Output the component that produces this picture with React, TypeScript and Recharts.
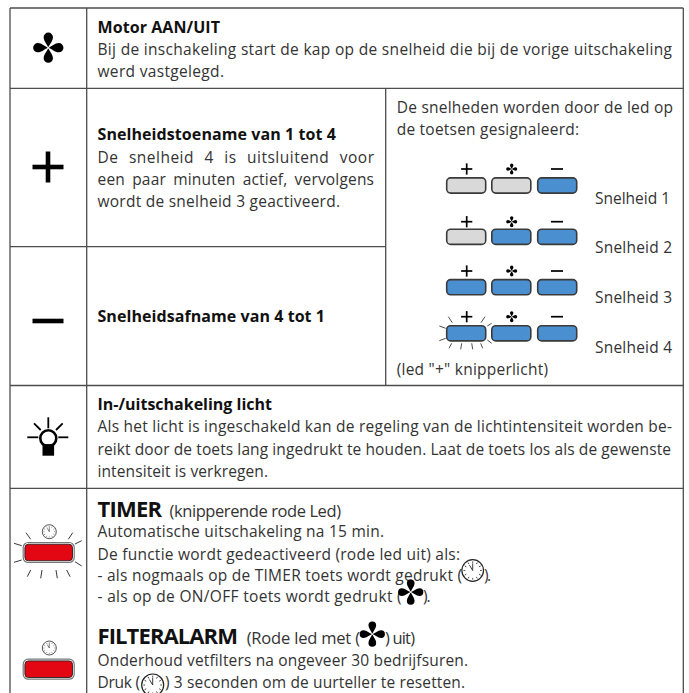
import { ScatterChart, Scatter, XAxis, YAxis, ReferenceLine } from 'recharts'

const PAGE_W = 689
const PAGE_H = 693
const FONT = '"Open Sans", "Noto Sans", sans-serif'

// table rules: [x1, y1, x2, y2]
const tableRules = [
  [10, 8, 683.3, 8],
  [10, 8, 10, 693],
  [683.3, 8, 683.3, 693],
  [86.7, 8, 86.7, 693],
  [10, 88.3, 683.3, 88.3],
  [10, 246.7, 385.7, 246.7],
  [385.7, 88.3, 385.7, 385.5],
  [10, 385.5, 683.3, 385.5],
  [10, 488.3, 683.3, 488.3],
]

// flash rays round the keys and the lamp
const speedRays = [
  [448.3, 316.7, 452.3, 322.7], [485, 316.7, 481, 322.7],
  [439.3, 326, 445.7, 328.3], [439.3, 340.7, 445.7, 338.3],
  [491.7, 323.3, 487.3, 326], [491.7, 343.3, 487.3, 340],
  [451.7, 343.3, 449, 348.3], [461.7, 343.3, 460.7, 349.3],
  [471.7, 343.3, 472.7, 349.3], [480.7, 343.3, 482.7, 348.3],
]
const timerRays = [
  [26, 532.7, 30.7, 539.3], [72.7, 532.7, 68.3, 539.3],
  [14, 543.3, 21.7, 545.7], [14, 562.3, 21.7, 560],
  [81.7, 540.7, 75, 544], [81.7, 566, 75, 561.7],
  [27.3, 576.7, 30.7, 570], [40.7, 578.3, 42, 570],
  [57.3, 578.3, 56, 570], [70, 576.7, 66.7, 570],
]
const lampRays = [
  [48.3, 417.3, 48.3, 428.3], [27.3, 437.3, 38.3, 437.3], [68.3, 437.3, 58.3, 437.3],
  [34, 423.3, 40.7, 430], [62.7, 423.3, 56, 430],
]

// text: x, baseline, string, end x, bold, font size
type Line = { x: number; y: number; s: string; end: number; b?: boolean; fs?: number; ws?: number }
const textLines: Line[] = [
  { x: 97.5, y: 32.5, s: 'Motor AAN/UIT', end: 220, b: true },
  { x: 97.5, y: 55, s: 'Bij de inschakeling start de kap op de snelheid die bij de vorige uitschakeling', end: 672 },
  { x: 97.5, y: 77, s: 'werd vastgelegd.', end: 224 },
  { x: 97.5, y: 140, s: 'Snelheidstoename van 1 tot 4', end: 336, b: true },
  { x: 97.5, y: 163, s: 'De snelheid 4 is uitsluitend voor', end: 374, ws: 6 },
  { x: 97.5, y: 185, s: 'een paar minuten actief, vervolgens', end: 374, ws: 3 },
  { x: 97.5, y: 207, s: 'wordt de snelheid 3 geactiveerd.', end: 340 },
  { x: 97.5, y: 322, s: 'Snelheidsafname van 4 tot 1', end: 325, b: true },
  { x: 396.7, y: 113, s: 'De snelheden worden door de led op', end: 673 },
  { x: 396.7, y: 135, s: 'de toetsen gesignaleerd:', end: 579 },
  { x: 595, y: 204, s: 'Snelheid 1', end: 670 },
  { x: 595, y: 252.7, s: 'Snelheid 2', end: 672 },
  { x: 595, y: 302.7, s: 'Snelheid 3', end: 672 },
  { x: 595, y: 352.7, s: 'Snelheid 4', end: 672 },
  { x: 396.7, y: 375, s: '(led "+" knipperlicht)', end: 548 },
  { x: 97.5, y: 410, s: 'In-/uitschakeling licht', end: 272, b: true },
  { x: 97.5, y: 432, s: 'Als het licht is ingeschakeld kan de regeling van de lichtintensiteit worden be-', end: 672 },
  { x: 97.5, y: 455, s: 'reikt door de toets lang ingedrukt te houden. Laat de toets los als de gewenste', end: 671 },
  { x: 97.5, y: 477, s: 'intensiteit is verkregen.', end: 268 },
  { x: 97.5, y: 516.7, s: 'TIMER', end: 162, b: true, fs: 22 },
  { x: 169.5, y: 516.7, s: '(knipperende rode Led)', end: 341, fs: 16.5 },
  { x: 97.5, y: 537, s: 'Automatische uitschakeling na 15 min.', end: 384 },
  { x: 97.5, y: 559.5, s: 'De functie wordt gedeactiveerd (rode led uit) als:', end: 460 },
  { x: 97.5, y: 581, s: '- als nogmaals op de TIMER toets wordt gedrukt (', end: 462 },
  { x: 484, y: 581, s: ').', end: 491 },
  { x: 97.5, y: 601.7, s: '- als op de ON/OFF toets wordt gedrukt (', end: 401.7 },
  { x: 423, y: 601.7, s: ').', end: 430.7 },
  { x: 97.5, y: 644, s: 'FILTERALARM', end: 238, b: true, fs: 22 },
  { x: 246.7, y: 644, s: '(Rode led met (', end: 360, fs: 16.5 },
  { x: 385, y: 644, s: ') uit)', end: 415, fs: 16.5 },
  { x: 97.5, y: 666, s: 'Onderhoud vetfilters na ongeveer 30 bedrijfsuren.', end: 468 },
  { x: 97.5, y: 688, s: 'Druk (', end: 140 },
  { x: 165, y: 688, s: ') 3 seconden om de uurteller te resetten.', end: 465 },
]

// keys: centre x, centre y, kind
const keyPoints = [
  { x: 466.2, y: 185.5, k: 'off' }, { x: 511.3, y: 185.5, k: 'off' }, { x: 557.2, y: 185.5, k: 'on' },
  { x: 466.2, y: 236.8, k: 'off' }, { x: 511.3, y: 236.8, k: 'on' }, { x: 557.2, y: 236.8, k: 'on' },
  { x: 466.2, y: 287.2, k: 'on' }, { x: 511.3, y: 287.2, k: 'on' }, { x: 557.2, y: 287.2, k: 'on' },
  { x: 466.2, y: 333.3, k: 'on' }, { x: 511.3, y: 333.3, k: 'on' }, { x: 557.2, y: 333.3, k: 'on' },
]
const redKeyPoints = [{ x: 48.7, y: 552.5 }, { x: 48.7, y: 669.2 }]

const fanPoints = [
  { x: 48.3, y: 47.7, r: 15 },
  { x: 410.7, y: 592, r: 12.5 },
  { x: 372.3, y: 634, r: 12.5 },
  { x: 511.7, y: 169, r: 5.5 },
  { x: 511.7, y: 221.7, r: 5.5 },
  { x: 511.7, y: 271, r: 5.5 },
  { x: 511.7, y: 316.7, r: 5.5 },
]
const plusPoints = [
  { x: 48, y: 167, r: 15.5, t: 4.6 },
  { x: 466.7, y: 169, r: 5.6, t: 1.7 },
  { x: 466.7, y: 221.7, r: 5.6, t: 1.7 },
  { x: 466.7, y: 271, r: 5.6, t: 1.7 },
  { x: 466.7, y: 316.7, r: 5.6, t: 1.7 },
]
const minusPoints = [
  { x: 48, y: 321, r: 15.5, t: 4.6 },
  { x: 557, y: 169, r: 6, t: 1.7 },
  { x: 557, y: 221.7, r: 6, t: 1.7 },
  { x: 557, y: 271, r: 6, t: 1.7 },
  { x: 557, y: 316.7, r: 6, t: 1.7 },
]
const clockPoints = [
  { x: 49.3, y: 531.7, r: 7 },
  { x: 49.3, y: 648, r: 7 },
  { x: 472.7, y: 570.5, r: 10.8 },
  { x: 152.7, y: 685, r: 11 },
]
const lampPoint = [{ x: 48.3, y: 438.3 }]

const TextShape = (p: any) => {
  const l: Line = p.payload
  return (
    <text
      x={p.cx}
      y={p.cy}
      fontFamily={FONT}
      fontSize={l.fs ?? (l.b ? 16 : 15.5)}
      fontWeight={l.b ? 700 : 400}
      fill={l.b ? '#111' : '#333'}
      wordSpacing={l.ws}
      textLength={l.end - l.x}
      lengthAdjust="spacing"
    >
      {l.s}
    </text>
  )
}

const KeyShape = (p: any) => (
  <rect
    x={p.cx - 19.5}
    y={p.cy - 7.6}
    width={39}
    height={15.2}
    rx={4}
    fill={p.payload.k === 'on' ? '#4a90d0' : '#d9d9d9'}
    stroke="#3a3a3a"
    strokeWidth={1.6}
  />
)

const RedKeyShape = (p: any) => (
  <g>
    <rect x={p.cx - 25.5} y={p.cy - 10} width={51} height={20} rx={5} fill="#fff" stroke="#777" strokeWidth={1.2} />
    <rect x={p.cx - 23.8} y={p.cy - 8.3} width={47.6} height={16.6} rx={3.5} fill="#e30613" stroke="#222" strokeWidth={0.9} />
  </g>
)

const PETAL = 'M0,0 C-0.06,-0.22 -0.31,-0.44 -0.31,-0.7 A0.31,0.31 0 1 1 0.31,-0.7 C0.31,-0.44 0.06,-0.22 0,0 Z'
const FanShape = (p: any) => {
  const r = p.payload.r
  return (
    <g transform={`translate(${p.cx},${p.cy}) scale(${r})`}>
      {[0, 90, 180, 270].map((a) => (
        <path key={a} d={PETAL} transform={`rotate(${a})`} fill="#000" />
      ))}
      <circle r={0.07} fill="#fff" />
    </g>
  )
}

const PlusShape = (p: any) => {
  const { r, t } = p.payload
  return (
    <g fill="#000">
      <rect x={p.cx - r} y={p.cy - t / 2} width={r * 2} height={t} />
      <rect x={p.cx - t / 2} y={p.cy - r} width={t} height={r * 2} />
    </g>
  )
}

const MinusShape = (p: any) => {
  const { r, t } = p.payload
  return <rect x={p.cx - r} y={p.cy - t / 2} width={r * 2} height={t} fill="#000" />
}

const ClockShape = (p: any) => {
  const r = p.payload.r
  const ticks = Array.from({ length: 12 }, (_, i) => i * 30)
  return (
    <g transform={`translate(${p.cx},${p.cy}) scale(${r})`} stroke="#222" fill="none">
      <circle r={1} strokeWidth={0.11} />
      {ticks.map((a) => (
        <line key={a} y1={-0.85} y2={-0.68} transform={`rotate(${a})`} strokeWidth={0.07} />
      ))}
      <line x1={0} y1={0} x2={0} y2={-0.65} strokeWidth={0.08} />
      <line x1={0} y1={0} x2={-0.3} y2={-0.5} strokeWidth={0.08} />
    </g>
  )
}

const LampShape = (p: any) => (
  <g>
    <circle cx={p.cx} cy={p.cy} r={8} fill="#fff" stroke="#000" strokeWidth={2.6} />
    <rect x={p.cx - 5.8} y={p.cy + 5.8} width={11.6} height={11.6} fill="#000" />
  </g>
)

const rayLine = (r: number[], key: string, stroke: string, width: number) => (
  <ReferenceLine
    key={key}
    segment={[{ x: r[0], y: r[1] }, { x: r[2], y: r[3] }]}
    stroke={stroke}
    strokeWidth={width}
    ifOverflow="visible"
  />
)

export default function App() {
  return (
    <div style={{ position: 'absolute', left: 0, top: 0, width: PAGE_W, height: PAGE_H, background: '#fff' }}>
      <ScatterChart width={PAGE_W} height={PAGE_H} margin={{ top: 0, right: 0, bottom: 0, left: 0 }}>
        <XAxis type="number" dataKey="x" domain={[0, PAGE_W]} hide />
        <YAxis type="number" dataKey="y" domain={[0, PAGE_H]} reversed hide />
        {tableRules.map((r, i) => rayLine(r, `rule${i}`, '#4d4d4d', 1.3))}
        {speedRays.map((r, i) => rayLine(r, `sp${i}`, '#222', 0.8))}
        {timerRays.map((r, i) => rayLine(r, `tm${i}`, '#222', 0.9))}
        {lampRays.map((r, i) => rayLine(r, `lp${i}`, '#000', 1.8))}
        <Scatter data={keyPoints} shape={KeyShape} isAnimationActive={false} />
        <Scatter data={redKeyPoints} shape={RedKeyShape} isAnimationActive={false} />
        <Scatter data={lampPoint} shape={LampShape} isAnimationActive={false} />
        <Scatter data={plusPoints} shape={PlusShape} isAnimationActive={false} />
        <Scatter data={minusPoints} shape={MinusShape} isAnimationActive={false} />
        <Scatter data={textLines} shape={TextShape} isAnimationActive={false} />
        <Scatter data={fanPoints} shape={FanShape} isAnimationActive={false} />
        <Scatter data={clockPoints} shape={ClockShape} isAnimationActive={false} />
      </ScatterChart>
    </div>
  )
}
